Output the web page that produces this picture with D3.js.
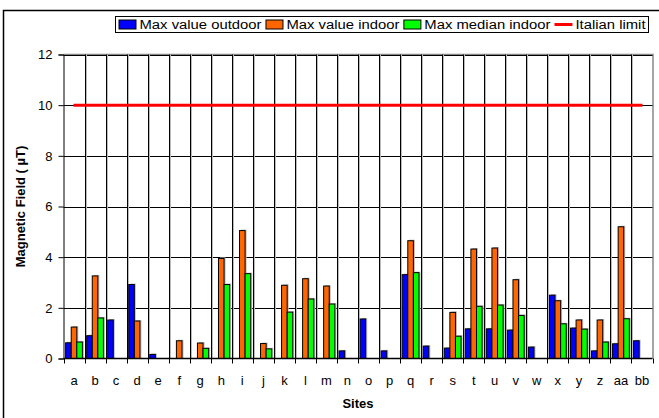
<!DOCTYPE html>
<html>
<head>
<meta charset="utf-8">
<script src="https://cdn.jsdelivr.net/npm/d3@7"></script>
<style>
  body { margin: 0; background: #fff; }
  text { font-family: "Liberation Sans", Arial, sans-serif; }
</style>
</head>
<body>
<div id="chart"></div>
<script>
const sites = ["a","b","c","d","e","f","g","h","i","j","k","l","m","n","o","p","q","r","s","t","u","v","w","x","y","z","aa","bb"];
const maxOutdoor = [0.62,0.9,1.52,2.92,0.16,0,0,0,0,0,0,0,0,0.3,1.56,0.3,3.31,0.49,0.41,1.17,1.17,1.12,0.45,2.5,1.2,0.3,0.58,0.7];
const maxIndoor  = [1.24,3.26,0,1.48,0,0.7,0.61,3.95,5.05,0.59,2.89,3.15,2.86,0,0,0,4.65,0,1.82,4.32,4.36,3.11,0,2.28,1.52,1.52,5.2,0];
const medianIndoor = [0.65,1.6,0,0,0,0,0.4,2.92,3.35,0.38,1.83,2.35,2.15,0,0,0,3.39,0,0.88,2.06,2.11,1.7,0,1.37,1.16,0.65,1.57,0];
const italianLimit = 10;
const yTicks = [0,2,4,6,8,10,12];

const seriesNames = ["Max value outdoor","Max value indoor","Max median indoor"];
const seriesColors = ["#0000ff","#ff6600","#00ff00"];
const seriesValues = [maxOutdoor, maxIndoor, medianIndoor];

const W = 659, H = 418;
const PLOT = {left: 63.5, right: 652.5, top: 54.5, bottom: 358.5};

const svg = d3.select("#chart").append("svg")
    .attr("width", W).attr("height", H);

// outer frame (runs off the right and bottom edge)
svg.append("rect")
    .attr("x", 3.5).attr("y", 10.5)
    .attr("width", 670).attr("height", 420)
    .attr("fill", "none").attr("stroke", "#000").attr("stroke-width", 1.5);

const x = d3.scaleBand().domain(sites).range([PLOT.left, PLOT.right]).padding(0);
const xSub = d3.scaleBand().domain(seriesNames).range([0, x.bandwidth()])
    .paddingInner(0).paddingOuter(0.38);
const y = d3.scaleLinear().domain([0, 12]).range([PLOT.bottom, PLOT.top]);

// plot border (grey top/right)
svg.append("path")
    .attr("d", `M${PLOT.left},${PLOT.top}H${PLOT.right + 0.5}V${PLOT.bottom}`)
    .attr("fill", "none").attr("stroke", "#888").attr("stroke-width", 1.5);

// horizontal gridlines
svg.append("g").selectAll("line")
    .data(yTicks.filter(d => d > 0))
    .join("line")
    .attr("x1", PLOT.left).attr("x2", PLOT.right)
    .attr("y1", d => Math.round(y(d)) + 0.5).attr("y2", d => Math.round(y(d)) + 0.5)
    .attr("stroke", "#000");

// vertical gridlines at category boundaries (with grey shadow)
const bounds = sites.slice(1).map(s => x(s));
svg.append("g").selectAll("line")
    .data(bounds)
    .join("line")
    .attr("x1", d => Math.round(d) + 1.5).attr("x2", d => Math.round(d) + 1.5)
    .attr("y1", PLOT.top).attr("y2", PLOT.bottom)
    .attr("stroke", "#bbb");
svg.append("g").selectAll("line")
    .data(bounds)
    .join("line")
    .attr("x1", d => Math.round(d) + 0.5).attr("x2", d => Math.round(d) + 0.5)
    .attr("y1", PLOT.top).attr("y2", PLOT.bottom)
    .attr("stroke", "#000");

// bars
seriesValues.forEach((vals, si) => {
    const g = svg.append("g");
    const data = sites.map((s, i) => ({site: s, v: vals[i]})).filter(d => d.v > 0);
    g.selectAll("rect.shadow")
        .data(data)
        .join("rect")
        .attr("class", "shadow")
        .attr("x", d => x(d.site) + xSub(seriesNames[si]) + 1.5)
        .attr("y", d => y(d.v) - 1)
        .attr("width", xSub.bandwidth())
        .attr("height", d => y(0) - y(d.v) + 1)
        .attr("fill", "#bbb");
    g.selectAll("rect.bar")
        .data(data)
        .join("rect")
        .attr("class", "bar")
        .attr("x", d => x(d.site) + xSub(seriesNames[si]))
        .attr("y", d => y(d.v))
        .attr("width", xSub.bandwidth())
        .attr("height", d => y(0) - y(d.v))
        .attr("fill", seriesColors[si])
        .attr("stroke", "#000").attr("stroke-width", 1);
});

// Italian limit line
svg.append("line")
    .attr("x1", x(sites[0]) + x.bandwidth() / 2 - 0.5)
    .attr("x2", x(sites[sites.length - 1]) + x.bandwidth() / 2 + 0.5)
    .attr("y1", y(italianLimit)).attr("y2", y(italianLimit))
    .attr("stroke", "#ff0000").attr("stroke-width", 3);

// y axis
const yAxis = svg.append("g")
    .attr("transform", `translate(${PLOT.left},0)`)
    .call(d3.axisLeft(y).tickValues(yTicks).tickSize(5).tickPadding(6));
yAxis.select(".domain").attr("stroke", "#000");
yAxis.selectAll("text").attr("font-size", 13).attr("fill", "#000")
    .style("font-family", '"Liberation Sans", Arial, sans-serif');

// x axis: ticks at category boundaries, labels at centres
const xAxisG = svg.append("g").attr("transform", `translate(0,${PLOT.bottom})`);
xAxisG.append("line")
    .attr("x1", PLOT.left).attr("x2", PLOT.right)
    .attr("stroke", "#000").attr("stroke-width", 1.5);
xAxisG.selectAll("line.tick")
    .data(sites.map(s => x(s)).concat([PLOT.right]))
    .join("line")
    .attr("class", "tick")
    .attr("x1", d => Math.round(d) + 0.5).attr("x2", d => Math.round(d) + 0.5)
    .attr("y1", 0).attr("y2", 5)
    .attr("stroke", "#000");
xAxisG.selectAll("text")
    .data(sites)
    .join("text")
    .attr("x", d => x(d) + x.bandwidth() / 2)
    .attr("y", 26)
    .attr("text-anchor", "middle")
    .attr("font-size", 13)
    .text(d => d);

// axis titles
svg.append("text")
    .attr("x", (PLOT.left + PLOT.right) / 2).attr("y", 408)
    .attr("text-anchor", "middle")
    .attr("font-size", 13).attr("font-weight", "bold")
    .text("Sites");
svg.append("text")
    .attr("transform", `translate(24.5,${(PLOT.top + PLOT.bottom) / 2}) rotate(-90)`)
    .attr("text-anchor", "middle")
    .attr("font-size", 13).attr("font-weight", "bold")
    .text("Magnetic Field ( µT)");

// legend - items laid out one after another, stretched to fill the box
const LEG = {x: 115.5, y: 16.5, w: 533, h: 16};
const legend = svg.append("g");
legend.append("rect")
    .attr("x", LEG.x).attr("y", LEG.y)
    .attr("width", LEG.w).attr("height", LEG.h)
    .attr("fill", "#fff").attr("stroke", "#000");

const legendItems = seriesNames.map((n, i) => ({name: n, color: seriesColors[i], type: "box"}))
    .concat([{name: "Italian limit", color: "#ff0000", type: "line"}]);
const SWATCH = 18, SW_GAP = 3, ITEM_GAP = 4, PAD = 3;

const texts = legendItems.map(it => legend.append("text")
    .attr("y", LEG.y + 12)
    .attr("font-size", 12.5)
    .text(it.name));
const natural = texts.map(t => t.node().getComputedTextLength());
const fixed = PAD * 2 + legendItems.length * (SWATCH + SW_GAP) + (legendItems.length - 1) * ITEM_GAP;
const stretch = (LEG.w - fixed) / d3.sum(natural);

let cx = LEG.x + PAD;
legendItems.forEach((it, i) => {
    if (it.type === "box") {
        legend.append("rect")
            .attr("x", cx + 0.5).attr("y", LEG.y + 3.5)
            .attr("width", SWATCH - 1).attr("height", 9)
            .attr("fill", it.color).attr("stroke", "#000");
    } else {
        legend.append("line")
            .attr("x1", cx).attr("x2", cx + SWATCH)
            .attr("y1", LEG.y + 8).attr("y2", LEG.y + 8)
            .attr("stroke", it.color).attr("stroke-width", 3);
    }
    cx += SWATCH + SW_GAP;
    const len = natural[i] * stretch;
    texts[i].attr("x", cx)
        .attr("textLength", len)
        .attr("lengthAdjust", "spacingAndGlyphs");
    cx += len + ITEM_GAP;
});
</script>
</body>
</html>
